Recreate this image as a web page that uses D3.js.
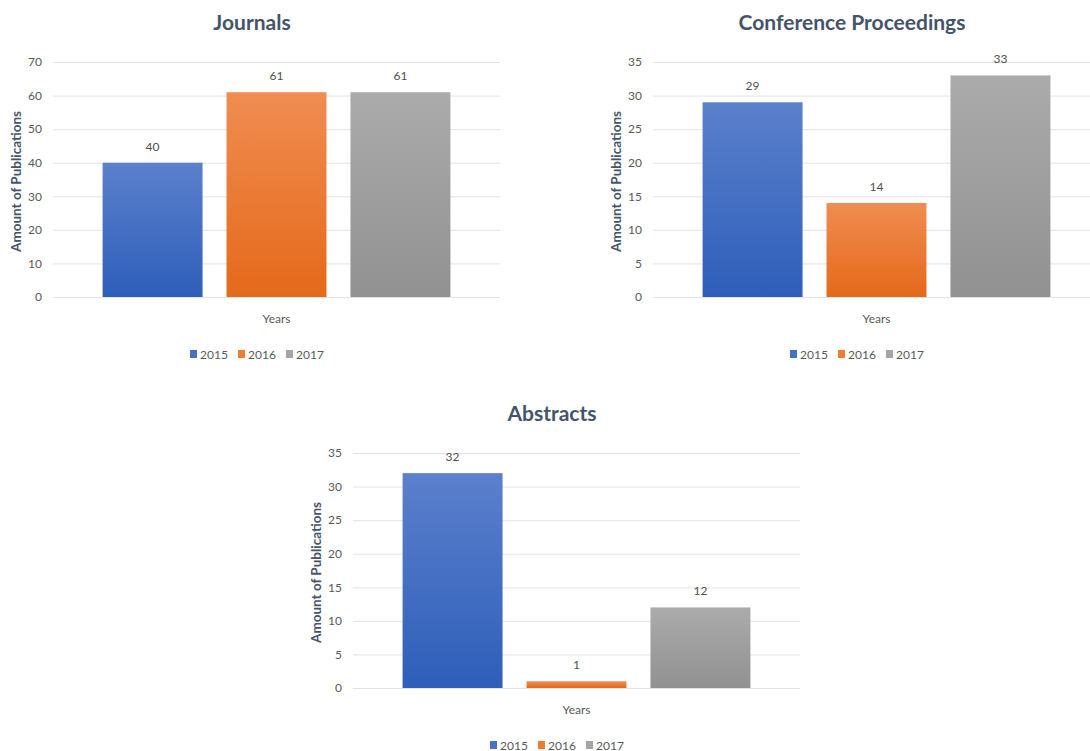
<!DOCTYPE html>
<html>
<head>
<meta charset="utf-8">
<script src="https://cdn.jsdelivr.net/npm/d3@7"></script>
<style>
  body { margin: 0; background: #fff; }
  svg { display: block; font-family: Lato, "Open Sans", sans-serif; }
</style>
</head>
<body>
<div id="chart"></div>
<script>
// Data
const years = ['2015', '2016', '2017'];
const chartTitles = ['Journals', 'Conference Proceedings', 'Abstracts'];
const journals = [40, 61, 61];
const conferences = [29, 14, 33];
const abstracts = [32, 1, 12];
const yMaxes = [70, 35, 35];
const yTickSteps = [10, 5, 5];

const seriesValues = [journals, conferences, abstracts];

// Colours: top / bottom of each bar gradient
const barTop = ['#5b80cc', '#f08d52', '#ababab'];
const barBottom = ['#2e5eb9', '#e4691a', '#919191'];
const legendColour = ['#4472c4', '#ed7d31', '#a5a5a5'];

const width = 1090;
const height = 751;

// Panel placement (top-left of each chart frame)
const panels = [
  { x: 0, y: 0 },
  { x: 600, y: 0 },
  { x: 300, y: 391 },
];

const svg = d3.select('#chart')
  .append('svg')
  .attr('width', width)
  .attr('height', height);

// Gradients per series
const defs = svg.append('defs');
years.forEach((yr, i) => {
  const g = defs.append('linearGradient')
    .attr('id', `grad${i}`)
    .attr('x1', 0).attr('y1', 0)
    .attr('x2', 0).attr('y2', 1);
  g.append('stop').attr('offset', '0%').attr('stop-color', barTop[i]);
  g.append('stop').attr('offset', '100%').attr('stop-color', barBottom[i]);
});

/**
 * Draw one bar chart panel
 * @param {*} p The panel offset
 * @param {number} k Index of the chart
 */
function drawChart(p, k) {
  const values = seriesValues[k];
  const plotLeft = 53;
  const plotRight = 500;
  const plotTop = 62;
  const plotBottom = 297;

  const g = svg.append('g').attr('transform', `translate(${p.x},${p.y})`);

  const x = d3.scaleBand()
    .domain(years)
    .range([plotLeft, plotRight])
    .paddingInner(0.1935)
    .paddingOuter(0.4);

  const y = d3.scaleLinear()
    .domain([0, yMaxes[k]])
    .range([plotBottom, plotTop]);

  // Grid + tick labels
  const axis = d3.axisLeft(y)
    .tickValues(d3.range(0, yMaxes[k] + 1, yTickSteps[k]))
    .tickSize(-(plotRight - plotLeft))
    .tickPadding(11);

  const ax = g.append('g')
    .attr('transform', `translate(${plotLeft},0)`)
    .call(axis);
  ax.select('.domain').remove();
  ax.selectAll('line').attr('stroke', '#e3e3e3').attr('stroke-width', 1);
  ax.selectAll('text')
    .attr('fill', '#595959')
    .style('font-size', '12px')
    .style('font-family', 'Lato, sans-serif');

  // Bars
  g.selectAll('.bar')
    .data(values)
    .enter().append('rect')
    .attr('class', 'bar')
    .attr('x', (d, i) => x(years[i]))
    .attr('y', d => y(d))
    .attr('width', x.bandwidth())
    .attr('height', d => plotBottom - y(d))
    .attr('fill', (d, i) => `url(#grad${i})`);

  // Data labels
  g.selectAll('.lbl')
    .data(values)
    .enter().append('text')
    .attr('class', 'lbl')
    .attr('x', (d, i) => x(years[i]) + x.bandwidth() / 2)
    .attr('y', d => y(d) - 12)
    .attr('text-anchor', 'middle')
    .attr('fill', '#505050')
    .style('font-size', '12px')
    .text(d => d);

  // Title
  g.append('text')
    .attr('x', 252)
    .attr('y', 30)
    .attr('text-anchor', 'middle')
    .attr('fill', '#44546a')
    .style('font-size', '21px')
    .style('font-weight', 'bold')
    .text(chartTitles[k]);

  // Axis titles
  g.append('text')
    .attr('transform', `translate(21,${(plotTop + plotBottom) / 2 + 2})rotate(-90)`)
    .attr('text-anchor', 'middle')
    .attr('fill', '#44546a')
    .style('font-size', '13.5px')
    .style('font-weight', 'bold')
    .text('Amount of Publications');

  g.append('text')
    .attr('x', (plotLeft + plotRight) / 2)
    .attr('y', 323)
    .attr('text-anchor', 'middle')
    .attr('fill', '#595959')
    .style('font-size', '12px')
    .text('Years');

  // Legend
  const legend = g.append('g').attr('transform', 'translate(190,354)');
  years.forEach((yr, i) => {
    const item = legend.append('g').attr('transform', `translate(${i * 48},0)`);
    item.append('rect')
      .attr('x', 0).attr('y', -4)
      .attr('width', 7).attr('height', 8)
      .attr('fill', legendColour[i]);
    item.append('text')
      .attr('x', 10)
      .attr('y', 4.5)
      .attr('fill', '#595959')
      .style('font-size', '12px')
      .text(yr);
  });
}

panels.forEach((p, k) => drawChart(p, k));
</script>
</body>
</html>
